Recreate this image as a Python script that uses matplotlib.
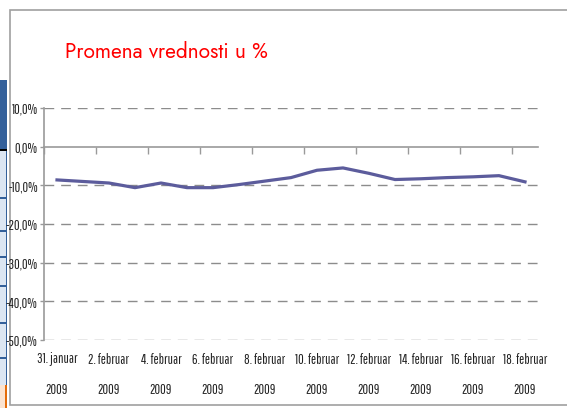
import matplotlib
matplotlib.use('Agg')
import matplotlib.pyplot as plt
from matplotlib.patches import Rectangle

title = "Promena vrednosti u %"
categories = ["31. januar 2009", "1. februar 2009", "2. februar 2009", "3. februar 2009",
              "4. februar 2009", "5. februar 2009", "6. februar 2009", "7. februar 2009",
              "8. februar 2009", "9. februar 2009", "10. februar 2009", "11. februar 2009",
              "12. februar 2009", "13. februar 2009", "14. februar 2009", "15. februar 2009",
              "16. februar 2009", "17. februar 2009", "18. februar 2009"]
values = [-8.6, -9.0, -9.4, -10.6, -9.4, -10.6, -10.6, -9.8, -8.9, -8.0,
          -6.1, -5.5, -6.9, -8.5, -8.3, -8.0, -7.8, -7.5, -9.1]
yticks = [10, 0, -10, -20, -30, -40, -50]
ytick_labels = ["10,0%", "0,0%", "-10,0%", "-20,0%", "-30,0%", "-40,0%", "-50,0%"]

narrow = ['Pathway Gothic One', 'DejaVu Sans']

W, H = 567, 408
fig = plt.figure(figsize=(W / 100, H / 100), dpi=100)
fig.patch.set_facecolor('white')

def px(x0, y0, w, h, **kw):
    fig.patches.append(Rectangle((x0 / W, 1 - (y0 + h) / H), w / W, h / H,
                                 transform=fig.transFigure, zorder=-5, **kw))

# left background strip
px(0, 80, 7, 70, facecolor='#34609A', edgecolor='none')
px(0, 150, 7, 235, facecolor='#DCE6F2', edgecolor='none')
px(5.5, 150, 1.5, 235, facecolor='#34609A', edgecolor='none')
px(0, 149, 7, 2, facecolor='#000000', edgecolor='none')
for yy in [197, 230, 256, 285, 322, 357]:
    px(0, yy, 7, 1.5, facecolor='#34609A', edgecolor='none')
px(0, 385, 7, 23, facecolor='#FBE3D0', edgecolor='none')
px(5, 385, 2, 23, facecolor='#E46C0A', edgecolor='none')
# panel
px(10, 10, 570, 395, facecolor='white', edgecolor='#A0A0A0', linewidth=1.2)

fig.text(65 / W, 1 - 57 / H, title, color='#FF0000', fontsize=15,
         family=['Jost', 'DejaVu Sans'], va='baseline', ha='left')

ax = fig.add_axes([44 / W, (H - 340) / H, (538 - 44) / W, (340 - 108) / H])
ax.set_facecolor('none')
x = list(range(len(values)))
ax.set_xlim(-0.5, len(values) - 0.5)
ax.set_ylim(-50, 10)

for v in yticks:
    if v != 0:
        ax.axhline(v, color='#8C8C8C', lw=1.0, dashes=(7, 5), zorder=1)

ax.plot(x, values, color='#5C5C9C', lw=2.3, solid_joinstyle='round', zorder=3)

for s in ['top', 'right']:
    ax.spines[s].set_visible(False)
ax.spines['left'].set_color('#9A9A9A')
ax.spines['left'].set_linewidth(1.2)
ax.spines['bottom'].set_position(('data', 0))
ax.spines['bottom'].set_color('#9A9A9A')
ax.spines['bottom'].set_linewidth(1.2)

ax.set_yticks(yticks)
ax.set_yticklabels(ytick_labels)
ax.tick_params(axis='y', direction='out', length=3, width=1, color='#9A9A9A',
               pad=1.5, labelsize=10, labelcolor='#222222')
for t in ax.get_yticklabels():
    t.set_family(narrow)

ax.set_xticks([b - 0.5 for b in x[::2]])
ax.tick_params(axis='x', direction='out', length=5, width=1, color='#9A9A9A',
               labelbottom=False)

sec = ax.secondary_xaxis(0.0)
sec.set_xticks(x[::2])
sec.set_xticklabels([c.replace(' 2009', '\n2009') for c in categories[::2]])
sec.tick_params(length=0, pad=9, labelsize=10, labelcolor='#222222')
sec.spines['bottom'].set_visible(False)
for t in sec.get_xticklabels():
    t.set_family(narrow)
    t.set_linespacing(2.5)

fig.savefig('out.png', dpi=100)
